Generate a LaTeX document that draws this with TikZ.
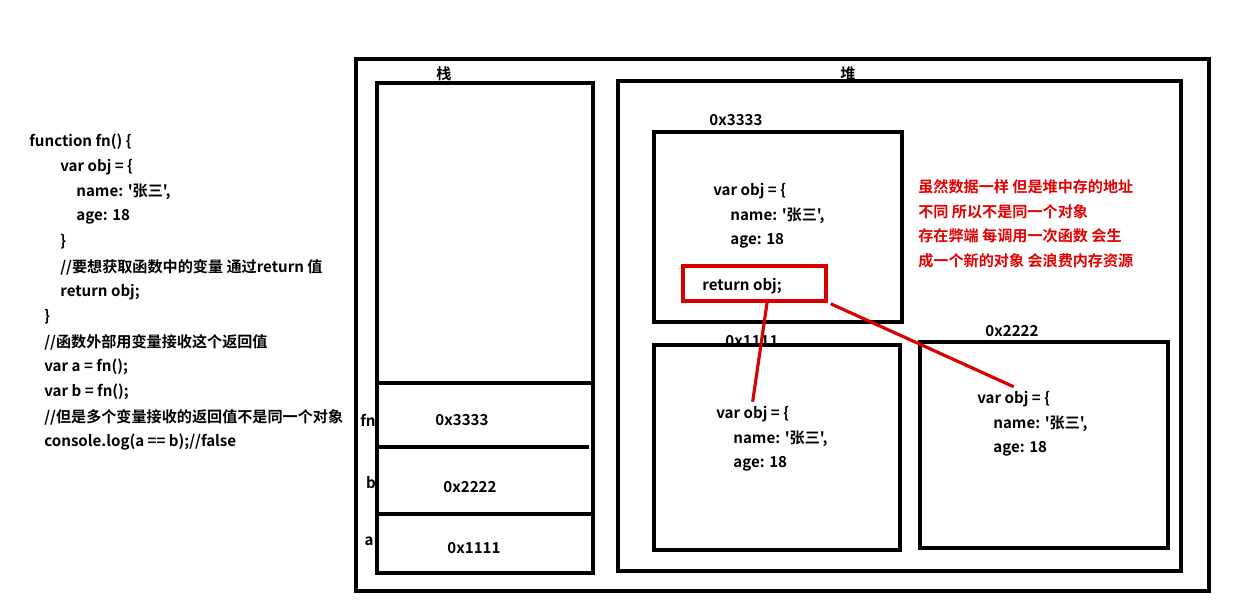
\documentclass[tikz,border=0pt]{standalone}
\usepackage{fontspec}
\newfontfamily\cjkfont{Noto Sans CJK SC}[BoldFont={* Bold}]
\usetikzlibrary{positioning, calc}

\begin{document}
\begin{tikzpicture}[x=0.02cm, y=-0.02cm,
    box/.style={draw, line width=2pt},
    redbox/.style={draw=red!85!black, line width=2pt},
    link/.style={red!85!black, line width=1.8pt},
    code/.style={anchor=west, inner sep=0pt, yshift=-1.1pt, font=\cjkfont\bfseries\fontsize{8.6}{10}\selectfont},
    note/.style={code, text=red!90!black}]
    \useasboundingbox (0,0) rectangle (1251,612);

    % Code on the left
    \node[code] (l1) at (29,140) {function fn() \{};
    \node[code] (l2) at (60,165) {var obj = \{};
    \node[code] (l3) at (76,190) {name: '张三',};
    \node[code] (l4) at (76,215) {age: 18};
    \node[code] (l5) at (60,240) {\}};
    \node[code] (l6) at (60,265) {//要想获取函数中的变量 通过return 值};
    \node[code] (l7) at (60,290) {return obj;};
    \node[code] (l8) at (44,315) {\}};
    \node[code] (l9) at (44,340) {//函数外部用变量接收这个返回值};
    \node[code] (l10) at (44,365) {var a = fn();};
    \node[code] (l11) at (44,390) {var b = fn();};
    \node[code] (l12) at (44,415) {//但是多个变量接收的返回值不是同一个对象};
    \node[code] (l13) at (44,440) {console.log(a == b);//false};

    % Memory frame
    \draw[box] (356,59) rectangle (1209,591);

    % Stack
    \node[code, anchor=center] (stack) at (444,72) {栈};
    \draw[box] (377,83) rectangle (593,573);
    \draw[box] (377,383) -- (593,383);
    \draw[box] (377,447) -- (589,447);
    \draw[box] (377,514) -- (595,514);
    \node[code, anchor=center] (fn) at (368,418) {fn};
    \node[code, anchor=center] (b) at (371,481) {b};
    \node[code, anchor=center] (a) at (369,539) {a};
    \node[code, anchor=center] (sfn) at (462,418) {0x3333};
    \node[code, anchor=center] (sb) at (470,485) {0x2222};
    \node[code, anchor=center] (sa) at (474,546) {0x1111};

    % Heap
    \node[code, anchor=center] (heap) at (848,72) {堆};
    \draw[box] (618,81) rectangle (1181,571);

    % Object 0x3333
    \node[code, anchor=center] (h3) at (736,118) {0x3333};
    \draw[box] (654,132) rectangle (902,322);
    \node[code] (h3v) at (713,189) {var obj = \{};
    \node[code] (h3n) at (730,214) {name: '张三',};
    \node[code] (h3a) at (730,239) {age: 18};
    \node[redbox, minimum width=2.86cm, minimum height=0.7cm] (ret) at (754.5,283.5) {};
    \node[code] (rettxt) at (702,284) {return obj;};

    % Object 0x1111
    \node[code, anchor=center] (h1) at (752,339) {0x1111};
    \draw[box] (654,345) rectangle (900,550);
    \node[code] (h1v) at (716,412) {var obj = \{};
    \node[code] (h1n) at (733,437) {name: '张三',};
    \node[code] (h1a) at (733,462) {age: 18};

    % Object 0x2222
    \node[code, anchor=center] (h2) at (1012,329) {0x2222};
    \draw[box] (920,342) rectangle (1168,548);
    \node[code] (h2v) at (977,397) {var obj = \{};
    \node[code] (h2n) at (993,422) {name: '张三',};
    \node[code] (h2a) at (993,447) {age: 18};

    % Note
    \node[note] (n1) at (918,185) {虽然数据一样 但是堆中存的地址};
    \node[note] (n2) at (918,210) {不同 所以不是同一个对象};
    \node[note] (n3) at (918,234) {存在弊端 每调用一次函数 会生};
    \node[note] (n4) at (918,259) {成一个新的对象 会浪费内存资源};

    % Links
    \draw[link] ($(ret.south)+(13,-3)$) -- ($(h1v.north)+(0,-4)$);
    \draw[link] ($(ret.south east)+(3,1)$) -- ($(h2v.north)+(0,-4)$);
\end{tikzpicture}
\end{document}
